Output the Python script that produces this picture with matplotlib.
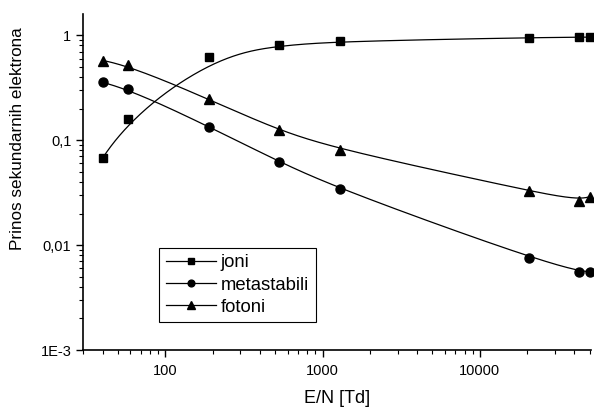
#!/usr/bin/env python3
"""Secondary electron yield contributions vs reduced field E/N."""

import matplotlib.pyplot as plt
from matplotlib.ticker import FixedLocator, LogLocator, NullFormatter
import numpy as np

plt.rcParams["font.family"] = ["Liberation Sans", "DejaVu Sans"]

EN = [40, 58, 190, 525, 1300, 20500, 42700, 50000]
joni = [0.068, 0.16, 0.615, 0.80, 0.875, 0.95, 0.96, 0.96]
metastabili = [0.355, 0.31, 0.135, 0.0625, 0.034, 0.0076, 0.0056, 0.0056]
fotoni = [0.575, 0.52, 0.245, 0.124, 0.081, 0.033, 0.0265, 0.029]

y_ticks = [1e-3, 1e-2, 1e-1, 1]
y_labels = ["1E-3", "0,01", "0,1", "1"]
x_ticks = [100, 1000, 10000]
x_labels = ["100", "1000", "10000"]


def bspline(x, y, n=400):
    """Clamped cubic B-spline with the points as control points (log-log)."""
    P = np.column_stack([np.log10(x), np.log10(y)])
    m = len(P)
    k = 3
    knots = np.concatenate([np.zeros(k), np.arange(m - k + 1), np.full(k, m - k)])
    t = np.linspace(0, m - k, n)
    t[-1] -= 1e-9

    # Cox-de Boor recursion
    N = np.zeros((n, len(knots) - 1))
    for i in range(len(knots) - 1):
        N[:, i] = (knots[i] <= t) & (t < knots[i + 1])
    for d in range(1, k + 1):
        Nn = np.zeros((n, len(knots) - 1 - d))
        for i in range(len(knots) - 1 - d):
            a = knots[i + d] - knots[i]
            b = knots[i + d + 1] - knots[i + 1]
            left = (t - knots[i]) / a * N[:, i] if a > 0 else 0
            right = (knots[i + d + 1] - t) / b * N[:, i + 1] if b > 0 else 0
            Nn[:, i] = left + right
        N = Nn
    C = N @ P
    return 10 ** C[:, 0], 10 ** C[:, 1]


fig = plt.figure(figsize=(5.94, 4.08), dpi=100)
ax = fig.add_axes([0.140, 0.142, 0.855, 0.824])

series = [(joni, "s", "joni", 6), (metastabili, "o", "metastabili", 6.5),
          (fotoni, "^", "fotoni", 7)]
for vals, mk, lab, ms in series:
    cx, cy = bspline(EN, vals)
    ax.plot(cx, cy, color="black", lw=0.9)
    ax.plot(EN, vals, ls="none", marker=mk, ms=ms, color="black", clip_on=False)
    # legend proxy: line with marker in the middle
    ax.plot([], [], color="black", lw=0.9, marker=mk, ms=ms, label=lab)

ax.set_xscale("log")
ax.set_yscale("log")
ax.set_xlim(30, 51000)
ax.set_ylim(1e-3, 1.6)

ax.xaxis.set_major_locator(FixedLocator(x_ticks))
ax.set_xticklabels(x_labels)
ax.yaxis.set_major_locator(FixedLocator(y_ticks))
ax.set_yticklabels(y_labels)
ax.xaxis.set_minor_locator(LogLocator(base=10, subs=np.arange(2, 10), numticks=20))
ax.yaxis.set_minor_locator(LogLocator(base=10, subs=np.arange(2, 10), numticks=20))
ax.xaxis.set_minor_formatter(NullFormatter())
ax.yaxis.set_minor_formatter(NullFormatter())

for side in ("top", "right"):
    ax.spines[side].set_visible(False)
for side in ("left", "bottom"):
    ax.spines[side].set_linewidth(1.2)
ax.tick_params(which="major", direction="out", length=5, width=1.0,
               labelsize=10.5)
ax.tick_params(axis="x", which="major", pad=5)
ax.tick_params(which="minor", direction="out", length=3, width=0.8)

ax.set_xlabel("E/N [Td]", fontsize=13, labelpad=9)
ax.set_ylabel("Prinos sekundarnih elektrona", fontsize=12.3)
ax.yaxis.set_label_coords(-0.114, 0.628)

leg = ax.legend(loc="lower left", bbox_to_anchor=(0.150, 0.083),
                borderaxespad=0, fontsize=13.3, numpoints=1, markerscale=0.75,
                handlelength=2.7, handletextpad=0.28, labelspacing=0.28,
                borderpad=0.35, fancybox=False, framealpha=1, edgecolor="black")
leg.get_frame().set_linewidth(0.8)

fig.savefig("out.png", dpi=100)
